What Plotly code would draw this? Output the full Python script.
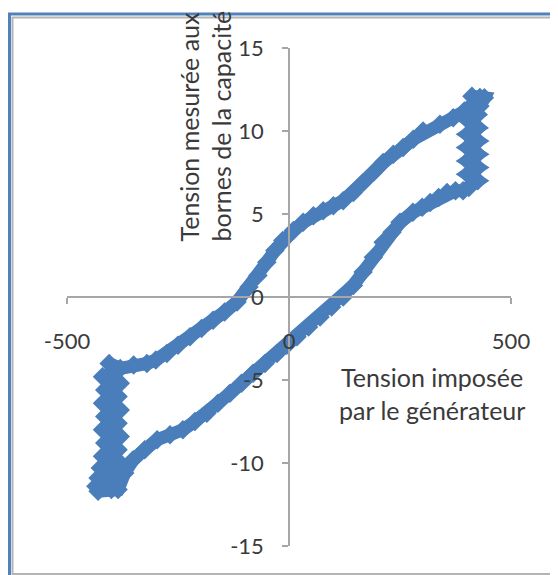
import plotly.graph_objects as go

# Tension imposée par le générateur (V) / tension aux bornes de la capacité (V)
# branche haute (de droite à gauche)
upper_x = [430, 415, 395, 370, 340, 302, 280, 257, 235, 212, 190, 167, 145, 122,
           100, 77, 55, 32, 10, -14, -32, -50, -70, -90, -117, -145, -171, -197,
           -223, -250, -275, -300, -320, -350, -380]
upper_y = [12.0, 11.6, 11.2, 10.8, 10.4, 10.0, 9.5, 9.0, 8.6, 8.1, 7.5, 6.9, 6.3, 5.8,
           5.5, 5.2, 4.9, 4.5, 4.0, 3.4, 2.8, 2.1, 1.3, 0.6, -0.3, -0.9, -1.4, -1.9,
           -2.4, -2.9, -3.4, -3.8, -4.0, -4.1, -4.3]

# saut à gauche (tension minimale)
left_x = [-405, -385, -420, -380, -415, -385, -420, -380, -415, -385, -420, -380,
          -415, -385, -420, -380, -425, -390, -430, -395, -435, -400, -430, -385]
left_y = [-4.0, -4.4, -4.8, -5.2, -5.6, -6.0, -6.4, -6.8, -7.2, -7.6, -8.0, -8.4,
          -8.8, -9.2, -9.6, -10.0, -10.3, -10.6, -10.9, -11.2, -11.4, -11.6, -11.7, -11.6]

# branche basse (de gauche à droite)
lower_x = [-370, -351, -325, -297, -268, -239, -212, -185, -160, -133, -107, -81,
           -54, -27, -5, 18, 44, 70, 96, 122, 145, 167, 190, 212, 232, 250, 279,
           300, 318, 337, 356, 375, 392]
lower_y = [-10.6, -9.8, -9.2, -8.6, -8.3, -8.0, -7.5, -7.0, -6.4, -5.8, -5.2, -4.6,
           -4.0, -3.4, -2.9, -2.4, -1.8, -1.2, -0.6, 0.0, 0.7, 1.5, 2.4, 3.3, 3.9,
           4.5, 5.1, 5.4, 5.7, 6.0, 6.3, 6.4, 6.4]

# saut à droite (tension maximale)
right_x = [405, 425, 402, 425, 402, 425, 402, 425, 402, 425, 405, 425, 408, 428,
           412, 440, 430]
right_y = [6.6, 7.0, 7.4, 7.8, 8.2, 8.6, 9.0, 9.4, 9.8, 10.2, 10.6, 11.0, 11.4, 11.8,
           12.1, 12.0, 11.5]

x_vals = upper_x + left_x + lower_x + right_x + upper_x[:1]
y_vals = upper_y + left_y + lower_y + right_y + upper_y[:1]

x_ticks = [-500, 0, 500]
x_labels = ['-500', '0', '500']
y_ticks = [-15, -10, -5, 0, 5, 10, 15]
y_labels = ['-15', '-10', '-5', '0', '5', '10', '15']

blue = '#4a7ebb'
axis_grey = '#a6a6a6'
text_col = '#3a3a3a'
font_name = 'Lato'

# the page adds an 8px body margin, so work in screen pixels minus that
OFF = 8
W, H = 558 - OFF, 575 - OFF
# plot area in screen pixels: x 67..511, y 48..546
L, R, T, B = 67 - OFF, 511 - OFF, 48 - OFF, 546 - OFF


def px(x):
    return (x - OFF - L) / (R - L)


def py(y):
    return (B - (y - OFF)) / (B - T)


fig = go.Figure()
fig.add_trace(go.Scatter(
    x=x_vals, y=y_vals,
    mode='lines+markers',
    line=dict(color=blue, width=13),
    marker=dict(color=blue, size=15, symbol='diamond'),
    hoverinfo='skip',
    showlegend=False,
))

fig.update_layout(
    width=W, height=H, autosize=False,
    margin=dict(l=L, r=W - R, t=T, b=H - B),
    paper_bgcolor='white', plot_bgcolor='white',
    font=dict(family=font_name, size=21, color=text_col),
    xaxis=dict(
        range=[-500, 500], tickvals=x_ticks, ticktext=x_labels,
        showgrid=False, zeroline=False,
        showline=True, linecolor=axis_grey, linewidth=1.5,
        ticks='outside', ticklen=6, tickcolor=axis_grey, tickwidth=1.5,
        anchor='free', position=0.5, ticklabelstandoff=19,
        tickfont=dict(family=font_name, size=22, color=text_col),
    ),
    yaxis=dict(
        range=[-15, 15], tickvals=y_ticks, ticktext=y_labels,
        showgrid=False, zeroline=False,
        showline=True, linecolor=axis_grey, linewidth=1.5,
        ticks='outside', ticklen=6, tickcolor=axis_grey, tickwidth=1.5,
        anchor='free', position=0.5, ticklabelstandoff=14,
        tickfont=dict(family=font_name, size=22, color=text_col),
    ),
)

# cadre du graphique (bordure bleue + liseré gris)
fig.add_shape(type='rect', xref='paper', yref='paper',
              x0=px(9.5), y0=py(620), x1=px(620), y1=py(14),
              line=dict(color='#4f81bd', width=3))
fig.add_shape(type='rect', xref='paper', yref='paper',
              x0=px(12.5), y0=py(574), x1=px(620), y1=py(17.5),
              line=dict(color='#b4b4b4', width=2))

fig.add_annotation(
    text='Tension imposée<br>par le générateur',
    xref='paper', yref='paper', x=px(432), y=py(393),
    xanchor='center', yanchor='middle',
    showarrow=False, align='center',
    font=dict(family=font_name, size=25, color=text_col),
)
fig.add_annotation(
    text='Tension mesurée aux<br>bornes de la capacité',
    xref='paper', yref='paper', x=px(205), y=py(244),
    xanchor='center', yanchor='bottom',
    showarrow=False, align='left', textangle=-90,
    font=dict(family=font_name, size=25, color=text_col),
)

fig.write_html("out.html")
